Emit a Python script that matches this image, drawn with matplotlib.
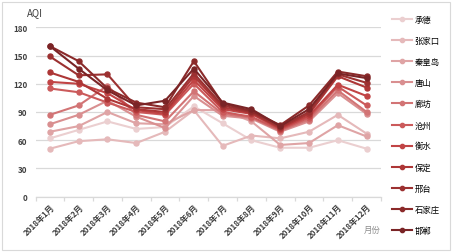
import matplotlib
matplotlib.use("Agg")
import matplotlib.pyplot as plt
from matplotlib.patches import Rectangle

plt.rcParams['font.family'] = ['Noto Sans CJK SC', 'DejaVu Sans']

months = ["2018年1月", "2018年2月", "2018年3月", "2018年4月", "2018年5月", "2018年6月",
          "2018年7月", "2018年8月", "2018年9月", "2018年10月", "2018年11月", "2018年12月"]
cities = ["承德", "张家口", "秦皇岛", "唐山", "廊坊", "沧州", "衡水", "保定", "邢台", "石家庄", "邯郸"]
colors = ["#ebcfd0", "#e5b9ba", "#dfa4a5", "#d98f90", "#d27475", "#cb5a5b",
          "#c14445", "#ad3636", "#9c3131", "#8b2a2a", "#7a2426"]

chengde      = [62, 71, 80, 72, 74, 96, 78, 60, 52, 52, 60, 51]
zhangjiakou  = [51, 59, 61, 57, 69, 92, 54, 65, 62, 69, 87, 67]
qinhuangdao  = [69, 75, 90, 78, 77, 92, 92, 80, 55, 57, 76, 64]
tangshan     = [77, 87, 102, 85, 73, 107, 86, 83, 69, 80, 110, 88]
langfang     = [87, 97, 118, 87, 80, 112, 88, 84, 70, 82, 113, 90]
cangzhou     = [115, 111, 100, 90, 87, 120, 90, 85, 71, 84, 117, 97]
hengshui     = [122, 120, 110, 92, 88, 124, 93, 88, 72, 86, 119, 107]
baoding      = [132, 122, 104, 93, 90, 128, 95, 89, 73, 88, 128, 116]
xingtai      = [149, 129, 130, 95, 93, 131, 97, 90, 74, 90, 130, 121]
shijiazhuang = [160, 144, 115, 100, 95, 144, 99, 91, 76, 97, 133, 128]
handan       = [160, 136, 113, 97, 102, 136, 100, 93, 75, 93, 131, 126]

series = [chengde, zhangjiakou, qinhuangdao, tangshan, langfang, cangzhou,
          hengshui, baoding, xingtai, shijiazhuang, handan]

fig = plt.figure(figsize=(4.54, 2.53), dpi=100)
ax = fig.add_axes([35.5/454, 55.3/253, 345.5/454, (197.7-28.3)/253])

x = list(range(len(months)))
for name, vals, c in zip(cities, series, colors):
    ax.plot(x, vals, color=c, lw=1.5, marker='o', ms=3.6, label=name, zorder=3)

ax.set_xlim(-0.5, 11.5)
ax.set_ylim(0, 180)
ax.set_yticks([0, 30, 60, 90, 120, 150, 180])
ax.grid(axis='y', color='#d9d9d9', lw=0.9)
ax.set_axisbelow(True)
for s in ['top', 'right', 'left']:
    ax.spines[s].set_visible(False)
ax.spines['bottom'].set_color('#d9d9d9')
ax.spines['bottom'].set_linewidth(0.9)
ax.tick_params(axis='y', length=0, labelsize=5.8, labelcolor='#404040', pad=6)
for lbl in ax.get_yticklabels():
    lbl.set_fontweight('bold')
ax.set_xticks(x)
ax.set_xticklabels(months, rotation=45, ha='right', rotation_mode='anchor',
                   fontsize=5.8, color='#404040', fontweight='bold')
ax.tick_params(axis='x', which='major', length=0, pad=4)
ax.set_xticks([i - 0.5 for i in range(13)], minor=True)
ax.tick_params(axis='x', which='minor', length=3, color='#d9d9d9', width=0.9)

fig.text(27/454, 1 - 13/253, "AQI", fontsize=7, color='#404040', va='center', ha='left')
fig.text(372/454, 1 - 230/253, "月份", fontsize=6, color='#8c8c8c', va='center', ha='center')

fig.legend(loc='upper left', bbox_to_anchor=(392/454, 1 - 16/253), frameon=False,
           fontsize=6, labelspacing=1.45, handlelength=2.4, handletextpad=0.3,
           borderaxespad=0, borderpad=0, markerscale=0.85)

fig.patches.append(Rectangle((2/454, 2/253), 448/454, 248/253, transform=fig.transFigure,
                             fill=False, edgecolor='#d9d9d9', lw=0.8))

fig.savefig("out.png", dpi=100)
